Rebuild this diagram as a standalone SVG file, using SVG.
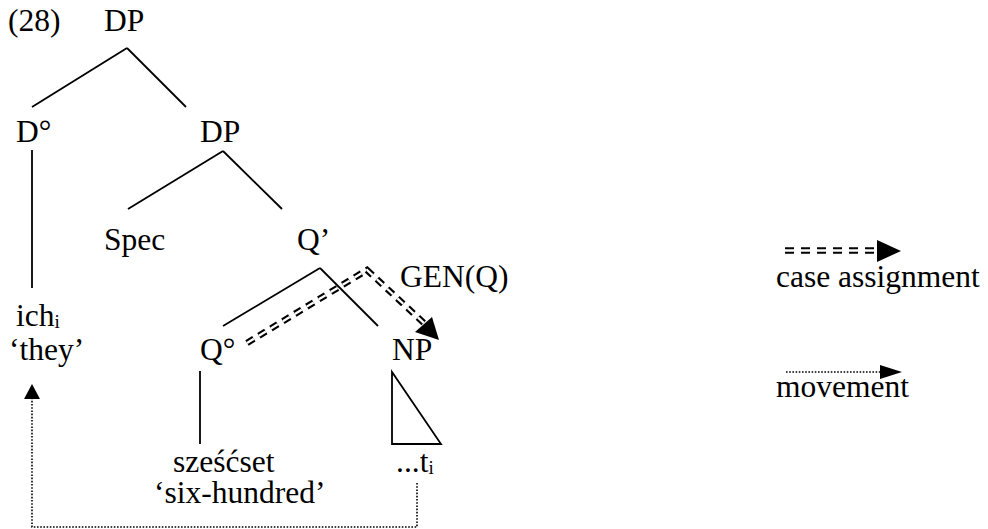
<svg xmlns="http://www.w3.org/2000/svg" width="988" height="529" viewBox="0 0 988 529">
<defs>
<style>
text{font-family:'Liberation Serif','Times New Roman',serif;font-size:31.5px;fill:#000}
.sub{font-size:19px}
.edge{stroke:#000;stroke-width:1.8;fill:none}
.dotted{stroke:#000;stroke-width:1.6;fill:none;stroke-dasharray:1.6 1.6}
.dblout{stroke:#000;stroke-width:6.5;fill:none;stroke-dasharray:8 6;stroke-linejoin:miter}
.dblin{stroke:#fff;stroke-width:2.3;fill:none;stroke-dasharray:8 6;stroke-linejoin:miter}
.head{fill:#000;stroke:none}
</style>
</defs>
<rect width="988" height="529" fill="#fff"/>
<text x="8" y="31">(28)</text>

<g id="connectors">
<polyline class="dblout" points="247,343 367,270 426,325"/>
<polyline class="dblin" points="247,343 367,270 426,325"/>
<polygon class="head" points="439,340 415,332 432,317"/>
<line class="edge" x1="127" y1="48" x2="32" y2="107"/>
<line class="edge" x1="127" y1="48" x2="186" y2="107"/>
<line class="edge" x1="32" y1="150" x2="32" y2="288"/>
<line class="edge" x1="223" y1="151" x2="128" y2="209"/>
<line class="edge" x1="223" y1="151" x2="282" y2="209"/>
<line class="edge" x1="320" y1="268" x2="223" y2="326"/>
<line class="edge" x1="320" y1="268" x2="378" y2="326"/>
<line class="edge" x1="200" y1="371" x2="200" y2="444"/>
<polygon class="edge" points="392,372 392,444 441,444"/>
<polyline class="dotted" points="417,483 417,527 32,527 32,398"/>
<polygon class="head" points="32,384 24,399 40,399"/>
</g>

<g id="node-dp-root"><text x="104" y="31">DP</text></g>
<g id="node-d"><text x="16" y="142">D°</text></g>
<g id="node-dp"><text x="200" y="142">DP</text></g>
<g id="node-spec"><text x="104" y="250">Spec</text></g>
<g id="node-qbar"><text x="297" y="250">Q’</text></g>
<g id="node-gen"><text x="400" y="287">GEN(Q)</text></g>
<g id="node-ich"><text x="16" y="326">ich<tspan class="sub" dy="2">i</tspan></text><text x="9" y="360">‘they’</text></g>
<g id="node-q"><text x="200" y="360">Q°</text></g>
<g id="node-np"><text x="392" y="360">NP</text></g>
<g id="node-szescset"><text x="173" y="472">sześćset</text><text x="154" y="503">‘six-hundred’</text></g>
<g id="node-trace"><text x="396" y="472">...t<tspan class="sub" dy="2">i</tspan></text></g>

<g id="legend">
<line class="dblout" x1="785" y1="250.5" x2="877" y2="250.5" style="stroke-dasharray:9 7"/>
<line class="dblin" x1="785" y1="250.5" x2="877" y2="250.5" style="stroke-dasharray:9 7"/>
<polygon class="head" points="877,240 877,262 901,251"/>
<text x="776" y="287">case assignment</text>
<line class="dotted" x1="786" y1="372" x2="881" y2="372"/>
<polygon class="head" points="880,365 880,379 902,372"/>
<text x="776" y="397">movement</text>
</g>
</svg>
